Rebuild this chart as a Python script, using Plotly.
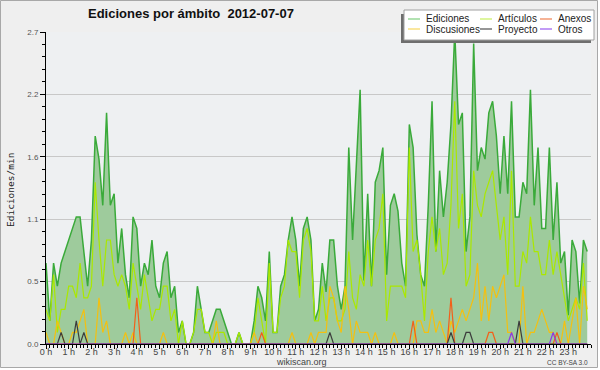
import plotly.graph_objects as go

# ---------------- data ----------------
bin_minutes = list(range(0, 1440, 10))          # 10-minute bins of the day
hours = [m / 60 for m in bin_minutes]

hour_ticks = list(range(24))
hour_labels = ["0 h", "1 h", "2 h", "3 h", "4 h", "5 h", "6 h", "7 h", "8 h", "9 h",
               "10 h", "11 h", "12 h", "13 h", "14 h", "15 h", "16 h", "17 h", "18 h",
               "19 h", "20 h", "21 h", "22 h", "23 h"]
y_tick_vals = [0, 0.54, 1.08, 1.62, 2.16, 2.7]
y_tick_text = ["0.0", "0.5", "1.1", "1.6", "2.2", "2.7"]

ediciones = [
    0.7, 0.2, 0.7, 0.5, 0.7, 0.8, 0.9, 1.0, 1.1, 1.1,
    0.8, 0.5, 0.9, 1.8, 1.6, 1.2, 2.0, 1.2, 1.3, 0.7,
    1.0, 0.6, 0.4, 1.1, 1.0, 0.5, 0.7, 0.6, 0.9, 0.5,
    0.4, 0.7, 0.8, 0.4, 0.5, 0.1, 0.2, 0.0, 0.0, 0.1,
    0.5, 0.3, 0.1, 0.1, 0.2, 0.3, 0.3, 0.2, 0.1, 0.0,
    0.0, 0.1, 0.0, 0.0, 0.0, 0.2, 0.5, 0.4, 0.2, 0.8,
    0.1, 0.1, 0.5, 0.6, 0.9, 1.1, 0.9, 0.5, 1.0, 1.1,
    0.9, 0.2, 0.3, 0.7, 0.45, 0.9, 0.9, 0.5, 0.3, 0.5,
    1.7, 0.9, 1.5, 2.2, 0.55, 1.3, 0.5, 1.4, 1.5, 1.7,
    0.6, 1.2, 1.3, 1.15, 0.7, 0.5, 1.9, 1.7, 0.95, 0.6,
    0.5, 1.2, 2.1, 0.8, 1.5, 1.1, 1.4, 1.9, 2.7, 1.9,
    2.0, 0.8, 1.1, 2.6, 1.5, 1.7, 1.6, 2.0, 2.1, 1.8,
    1.3, 1.8, 1.3, 2.1, 1.1, 1.1, 1.4, 1.3, 2.2, 1.2,
    1.7, 1.0, 1.0, 1.7, 0.9, 1.4, 0.7, 0.8, 0.25, 0.9,
    0.8, 0.35, 0.9, 0.8]

articulos = [
    0.3, 0.2, 0.6, 0.1, 0.3, 0.3, 0.5, 0.5, 0.4, 0.7,
    0.4, 0.4, 0.5, 1.4, 0.9, 0.5, 0.9, 0.9, 0.6, 0.5,
    0.6, 0.5, 0.3, 0.7, 0.5, 0.3, 0.6, 0.4, 0.2, 0.3,
    0.3, 0.5, 0.5, 0.2, 0.3, 0.0, 0.2, 0.0, 0.0, 0.1,
    0.3, 0.3, 0.1, 0.1, 0.0, 0.1, 0.1, 0.1, 0.0, 0.0,
    0.0, 0.1, 0.0, 0.0, 0.0, 0.1, 0.4, 0.2, 0.0, 0.7,
    0.1, 0.1, 0.4, 0.5, 0.9, 0.8, 0.8, 0.4, 0.9, 1.0,
    0.8, 0.2, 0.2, 0.5, 0.2, 0.4, 0.4, 0.2, 0.2, 0.3,
    0.8, 0.4, 0.3, 0.6, 0.5, 0.9, 0.5, 0.9, 1.0, 1.3,
    0.2, 0.5, 0.5, 0.5, 0.5, 0.4, 1.7, 0.8, 0.9, 0.6,
    0.2, 0.8, 1.1, 0.8, 1.0, 0.6, 0.7, 1.2, 2.1, 1.0,
    1.3, 0.5, 0.6, 1.5, 1.2, 1.1, 1.3, 1.4, 1.5, 1.2,
    0.9, 1.1, 0.6, 1.5, 0.5, 0.5, 0.8, 0.7, 1.1, 0.8,
    0.8, 0.6, 0.6, 0.9, 0.6, 0.8, 0.6, 0.4, 0.2, 0.3,
    0.4, 0.3, 0.7, 0.2]

discusiones = [
    0.1, 0.0, 0.0, 0.2, 0.1, 0.0, 0.0, 0.1, 0.1, 0.2,
    0.3, 0.0, 0.0, 0.0, 0.4, 0.1, 0.2, 0.0, 0.0, 0.0,
    0.0, 0.1, 0.0, 0.1, 0.0, 0.0, 0.0, 0.0, 0.0, 0.0,
    0.0, 0.1, 0.0, 0.0, 0.0, 0.0, 0.0, 0.0, 0.0, 0.0,
    0.0, 0.0, 0.0, 0.0, 0.0, 0.2, 0.0, 0.0, 0.0, 0.0,
    0.0, 0.0, 0.0, 0.0, 0.0, 0.1, 0.0, 0.0, 0.0, 0.0,
    0.0, 0.0, 0.0, 0.0, 0.0, 0.1, 0.0, 0.0, 0.0, 0.0,
    0.1, 0.0, 0.1, 0.1, 0.1, 0.5, 0.4, 0.2, 0.1, 0.5,
    0.3, 0.0, 0.2, 0.1, 0.1, 0.1, 0.0, 0.1, 0.0, 0.0,
    0.0, 0.0, 0.1, 0.0, 0.0, 0.0, 0.0, 0.0, 0.2, 0.2,
    0.1, 0.1, 0.3, 0.1, 0.2, 0.1, 0.0, 0.2, 0.1, 0.2,
    0.3, 0.2, 0.3, 0.4, 0.7, 0.2, 0.5, 0.2, 0.5, 0.4,
    0.5, 0.6, 0.1, 0.1, 0.0, 0.0, 0.5, 0.0, 0.1, 0.1,
    0.2, 0.3, 0.2, 0.1, 0.1, 0.0, 0.0, 0.2, 0.0, 0.2,
    0.4, 0.0, 0.5, 0.3]

anexos = [
    0, 0, 0, 0, 0, 0, 0, 0, 0, 0,
    0, 0, 0, 0, 0, 0, 0, 0, 0, 0,
    0, 0, 0, 0, 0.4, 0, 0, 0, 0, 0,
    0, 0, 0, 0, 0, 0, 0, 0, 0, 0,
    0, 0, 0, 0, 0, 0, 0, 0, 0, 0,
    0, 0, 0, 0, 0, 0, 0, 0.1, 0, 0,
    0, 0, 0, 0, 0, 0, 0, 0, 0, 0,
    0, 0, 0, 0, 0, 0, 0, 0, 0, 0,
    0, 0, 0, 0, 0, 0, 0, 0, 0, 0,
    0, 0, 0, 0, 0, 0, 0, 0.2, 0, 0,
    0, 0, 0, 0, 0, 0, 0, 0.4, 0, 0,
    0, 0, 0, 0, 0, 0, 0, 0.1, 0.1, 0,
    0, 0, 0, 0, 0, 0, 0, 0, 0, 0,
    0, 0, 0, 0, 0, 0.1, 0, 0, 0, 0,
    0, 0, 0, 0]

proyecto = [
    0, 0, 0, 0, 0.1, 0, 0, 0, 0.2, 0,
    0.1, 0, 0, 0, 0, 0, 0, 0, 0, 0,
    0, 0, 0, 0, 0, 0, 0, 0, 0, 0,
    0, 0, 0, 0, 0, 0, 0, 0, 0, 0,
    0, 0, 0, 0, 0, 0, 0, 0, 0, 0,
    0, 0, 0, 0, 0, 0, 0, 0, 0, 0,
    0, 0, 0, 0, 0, 0, 0, 0, 0, 0,
    0, 0, 0, 0, 0, 0.1, 0, 0, 0, 0,
    0, 0, 0, 0, 0, 0, 0, 0, 0, 0,
    0, 0, 0, 0, 0, 0, 0, 0, 0, 0,
    0, 0, 0, 0, 0, 0, 0, 0.1, 0, 0,
    0, 0.1, 0.1, 0, 0, 0, 0, 0, 0, 0,
    0, 0, 0, 0, 0, 0.2, 0, 0, 0, 0,
    0, 0, 0, 0, 0, 0, 0, 0, 0, 0,
    0, 0, 0, 0]

otros = [
    0, 0, 0, 0, 0, 0, 0, 0, 0, 0,
    0, 0, 0, 0, 0, 0, 0, 0, 0, 0,
    0, 0, 0, 0, 0, 0, 0, 0, 0, 0,
    0, 0, 0, 0, 0, 0, 0, 0, 0, 0,
    0, 0, 0, 0, 0, 0, 0, 0, 0, 0,
    0, 0, 0, 0, 0, 0, 0, 0, 0, 0,
    0, 0, 0, 0, 0, 0, 0, 0, 0, 0,
    0, 0, 0, 0, 0, 0, 0, 0, 0, 0,
    0, 0, 0, 0, 0, 0, 0, 0, 0, 0,
    0, 0, 0, 0, 0, 0, 0, 0, 0, 0,
    0, 0, 0, 0, 0, 0, 0, 0, 0, 0,
    0, 0, 0, 0, 0, 0, 0, 0, 0, 0,
    0, 0, 0, 0.1, 0, 0, 0, 0, 0, 0,
    0, 0, 0, 0, 0.1, 0, 0, 0, 0, 0,
    0, 0, 0, 0]

# ---------------- style ----------------
C_ED_LINE = "#3aaa3a"
C_ED_FILL = "#9ecb9c"
C_ART = "#aae800"
C_DIS = "#f4c010"
C_ANE = "#f2601a"
C_PRO = "#3c3c3c"
C_OTR = "#8a3ae6"

W, H = 600, 370
L, R, T, B = 46, 9, 32, 26
PW, PH = W - L - R, H - T - B


def px(x):
    return (x - L) / PW


def py(y):
    return (H - B - y) / PH


fig = go.Figure()
fig.add_trace(go.Scatter(x=hours, y=ediciones, name="Ediciones", mode="lines",
                         line=dict(color=C_ED_LINE, width=1.5), fill="tozeroy",
                         fillcolor=C_ED_FILL))
series = [("Artículos", articulos, C_ART), ("Discusiones", discusiones, C_DIS),
          ("Anexos", anexos, C_ANE), ("Proyecto", proyecto, C_PRO), ("Otros", otros, C_OTR)]
for name, vals, col in series:
    fig.add_trace(go.Scatter(x=hours, y=vals, name=name, mode="lines",
                             line=dict(color=col, width=1.2)))

shapes = []
annotations = []

# outer frame
shapes.append(dict(type="rect", xref="paper", yref="paper", x0=px(598), x1=px(600),
                   y0=py(0), y1=py(370), fillcolor="white", line=dict(width=0)))
shapes.append(dict(type="rect", xref="paper", yref="paper", x0=px(0), x1=px(600),
                   y0=py(368), y1=py(370), fillcolor="white", line=dict(width=0)))
shapes.append(dict(type="rect", xref="paper", yref="paper", x0=px(0.5), x1=px(597.5),
                   y0=py(0.5), y1=py(367.5), line=dict(color="#a8a8a8", width=1)))

# legend box with shadow
shapes.append(dict(type="rect", xref="paper", yref="paper", x0=px(401), x1=px(591),
                   y0=py(14), y1=py(43), fillcolor="#6e6e6e", line=dict(width=0)))
shapes.append(dict(type="rect", xref="paper", yref="paper", x0=px(404), x1=px(594),
                   y0=py(10), y1=py(40), fillcolor="white", line=dict(color="#a0a0a0", width=1)))

legend_items = [("Ediciones", "#7fcf7f", 408, 19), ("Artículos", "#c8f060", 480, 19),
                ("Anexos", "#f08050", 540, 19), ("Discusiones", "#f7d860", 408, 29),
                ("Proyecto", "#505050", 480, 29), ("Otros", "#9a5af0", 540, 29)]
for name, col, x0, y0 in legend_items:
    shapes.append(dict(type="line", xref="paper", yref="paper", x0=px(x0), x1=px(x0 + 12),
                       y0=py(y0), y1=py(y0), line=dict(color=col, width=1.2)))
    annotations.append(dict(text=name, xref="paper", yref="paper", x=px(x0 + 16), y=py(y0),
                            xanchor="left", yanchor="middle", showarrow=False,
                            font=dict(family="Liberation Sans", size=10, color="#222")))

# title
annotations.append(dict(text="<b>Ediciones por ámbito\u00a0\u00a02012-07-07</b>", xref="paper",
                        yref="paper", x=px(86), y=py(14), xanchor="left", yanchor="middle",
                        showarrow=False,
                        font=dict(family="Liberation Sans", size=13, color="#111")))
# y title
annotations.append(dict(text="Ediciones/min", xref="paper", yref="paper", x=px(10), y=py(190),
                        xanchor="center", yanchor="middle", textangle=-90, showarrow=False,
                        font=dict(family="DejaVu Sans Mono", size=9.5, color="#222")))
# footer
annotations.append(dict(text="wikiscan.org", xref="paper", yref="paper", x=px(301), y=py(362),
                        xanchor="center", yanchor="middle", showarrow=False,
                        font=dict(family="Liberation Sans", size=9, color="#444")))
annotations.append(dict(text="CC BY-SA 3.0", xref="paper", yref="paper", x=px(590), y=py(362),
                        xanchor="right", yanchor="middle", showarrow=False,
                        font=dict(family="Liberation Sans", size=6.5, color="#444")))

fig.update_layout(
    width=W, height=H, margin=dict(l=L, r=R, t=T, b=B, pad=0),
    paper_bgcolor="#efefef", plot_bgcolor="#eef0f2",
    showlegend=False, shapes=shapes, annotations=annotations,
    xaxis=dict(range=[0, 24], tickmode="array", tickvals=hour_ticks, ticktext=hour_labels,
               ticks="outside", ticklen=4, tickcolor="black", tickwidth=1,
               ticklabelstandoff=-5,
               showline=True, linecolor="black", linewidth=1, showgrid=False, zeroline=False,
               tickfont=dict(family="Liberation Sans", size=9, color="#444"),
               minor=dict(dtick=1 / 6, tick0=0, ticks="outside", ticklen=3, tickcolor="black",
                          showgrid=False)),
    yaxis=dict(range=[0, 2.7], tickmode="array", tickvals=y_tick_vals, ticktext=y_tick_text,
               ticks="outside", ticklen=5, tickcolor="black", tickwidth=1,
               showline=True, linecolor="black", linewidth=1, showgrid=True,
               gridcolor="#c8c8c8", gridwidth=1, zeroline=False,
               tickfont=dict(family="Liberation Sans", size=8, color="#555"),
               minor=dict(dtick=0.108, tick0=0, ticks="outside", ticklen=3, tickcolor="black",
                          showgrid=False)),
)

fig.write_html("out.html", config={"displayModeBar": False},
               post_script="document.body.style.margin='0';document.body.style.overflow='hidden';")
